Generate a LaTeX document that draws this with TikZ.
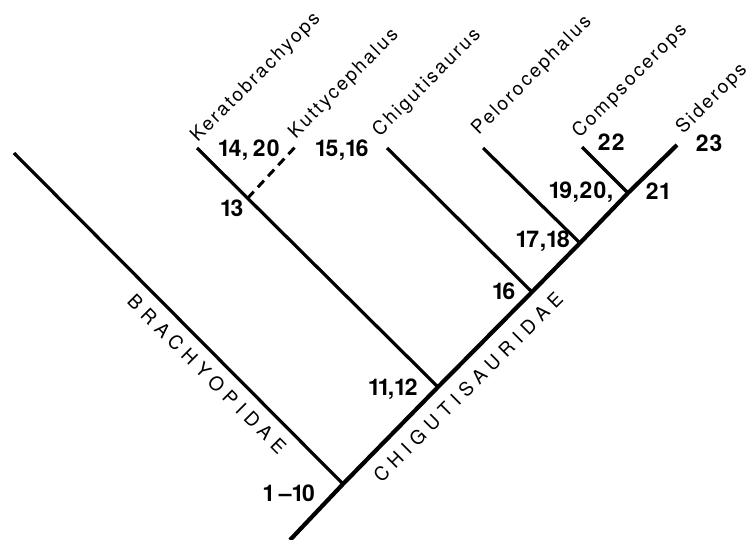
\documentclass[tikz,border=0pt]{standalone}
\usepackage{fontspec}
\setmainfont{TeX Gyre Heros}
\newfontfamily\taxonfont[LetterSpace=12]{TeX Gyre Heros}
\newfontfamily\cladefont[LetterSpace=32]{TeX Gyre Heros}
\newfontfamily\charfont[Numbers=Proportional]{TeX Gyre Heros}
\usepackage{tikz}
\usetikzlibrary{calc}
\tikzset{
  branch line/.style={line width=3.2pt},
  stem line/.style={line width=4.2pt},
  doubtful line/.style={branch line,line width=3pt,dash pattern=on 9pt off 6pt},
  taxon label/.style={inner sep=0pt,rotate=45,
    font=\taxonfont\fontsize{19}{19}\selectfont},
  clade label/.style={inner sep=0pt,font=\cladefont\fontsize{19}{19}\selectfont},
  char label/.style={inner sep=0pt,font=\charfont\bfseries\fontsize{23}{23}\selectfont}
}

\begin{document}
\begin{tikzpicture}[x=1pt,y=-1pt]
\useasboundingbox (0,0) rectangle (752,540);
% branch points along the stem
\coordinate (root) at (290,540);
\coordinate (n1) at (343,484);
\coordinate (n2) at (438,387);
\coordinate (n3) at (532,292);
\coordinate (n4) at (580,243);
\coordinate (n5) at (628,193);
% tips
\coordinate (sid) at (677,145);
\coordinate (bra) at (14,153);
\coordinate (ker) at (197,148);
\coordinate (n6) at ($(n2)!0.79!(ker)$);
\coordinate (kut) at (297,145);
\coordinate (chi) at (387,148);
\coordinate (pel) at (483,148);
\coordinate (com) at (582,147);

\draw[stem line] (root) -- (n1) -- (n2) -- (n3) -- (n4) -- (n5) -- (sid);
\draw[branch line] (n1) -- (bra);
\draw[branch line] (n2) -- (ker);
\draw[doubtful line] (n6) -- (kut);
\draw[branch line] (n3) -- (chi);
\draw[branch line] (n4) -- (pel);
\draw[branch line] (n5) -- (com);

% genera
\node[taxon label] (kerlab) at (256,78) {Keratobrachyops};
\node[taxon label] (kutlab) at (344,84) {Kuttycephalus};
\node[taxon label] (chilab) at (427,83) {Chigutisaurus};
\node[taxon label] (pellab) at (532,76) {Pelorocephalus};
\node[taxon label] (comlab) at (630,81) {Compsocerops};
\node[taxon label] (sidlab) at (712,99) {Siderops};

% families
\node[clade label,rotate=-45] (brachy) at (207,374) {BRACHYOPIDAE};
\node[clade label,rotate=45] (chigut) at (468,387) {CHIGUTISAURIDAE};

% characters
\node[char label] (c1) at (289,493) {1 \textendash10};
\node[char label] (c2) at (393,389) {11,12};
\node[char label] (c3) at (232,208) {13};
\node[char label] (c4) at (249,150) {14,\,20};
\node[char label] (c5) at (342,150) {15,16};
\node[char label] (c6) at (504,291) {16};
\node[char label] (c7) at (543,241) {17,18};
\node[char label] (c8) at (581,192) {19,20,};
\node[char label] (c9) at (657,191) {21};
\node[char label] (c10) at (611,142) {22};
\node[char label] (c11) at (709,143) {23};
\end{tikzpicture}
\end{document}
